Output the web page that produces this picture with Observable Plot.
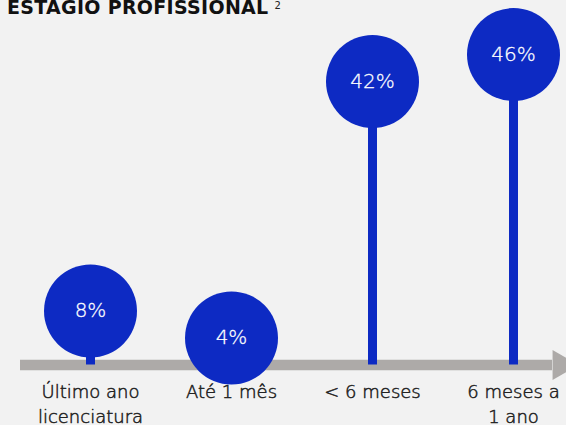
<!DOCTYPE html>
<html><head><meta charset="utf-8">
<script src="https://cdn.jsdelivr.net/npm/d3@7"></script>
<script src="https://cdn.jsdelivr.net/npm/@observablehq/plot@0.6"></script>
<style>
html,body{margin:0;padding:0;background:#f2f2f2;width:566px;height:425px;overflow:hidden;}
#title{position:relative;height:20px;font-family:"DejaVu Sans",sans-serif;color:#111;white-space:nowrap;}
#title .t{position:absolute;left:7px;top:-4px;line-height:19px;font-size:19px;font-weight:bold;letter-spacing:0.3px;}
#title sup{font-size:10px;font-weight:normal;margin-left:6px;vertical-align:5px;color:#222;}
#chart svg{display:block;overflow:visible;}
</style>
</head><body>
<div id="title"><span class="t">ESTAGIO PROFISSIONAL<sup>2</sup></span></div>
<div id="chart"></div>
<script>
const categories = ["Último ano\nlicenciatura", "Até 1 mês", "< 6 meses", "6 meses a\n1 ano"];
const values = [8, 4, 42, 46];
const valueLabels = ["8%", "4%", "42%", "46%"];

const data = categories.map((c, i) => ({cat: c, value: values[i], label: valueLabels[i]}));
const blue = "#0d2ac3";
const gray = "#adaaa8";
const font = "DejaVu Sans";

const chart = Plot.plot({
  width: 566,
  height: 405,
  marginLeft: 90,
  marginRight: 53,
  marginTop: 34,
  marginBottom: 60.5,
  style: {background: "transparent", fontFamily: font, overflow: "visible"},
  x: {type: "point", domain: categories, padding: 0, axis: null},
  y: {domain: [0, 46], axis: null},
  marks: [
    Plot.ruleY([0], {stroke: gray, strokeWidth: 10.5, insetLeft: -70, insetRight: -39}),
    Plot.dot([categories[categories.length - 1]], {x: d => d, y: () => 0, symbol: "triangle", rotate: 90, r: 11.1, dx: 47.7, fill: gray, stroke: null}),
    Plot.ruleX(data, {x: "cat", y1: () => 0, y2: "value", stroke: blue, strokeWidth: 9}),
    Plot.dot(data, {x: "cat", y: "value", r: 46.5, fill: blue, stroke: null}),
    Plot.text(data, {x: "cat", y: "value", text: "label", fill: "white", stroke: "white", strokeWidth: 0.3, fontSize: 20, fontWeight: 300, fontFamily: font}),
    Plot.text(data, {x: "cat", y: () => 0, text: "cat", lineAnchor: "top", dy: 16, lineHeight: 1.36, fontSize: 18, fontWeight: 300, fill: "#222", stroke: "#222", strokeWidth: 0.5, fontFamily: font, style: "letter-spacing:1px"})
  ]
});
document.getElementById("chart").appendChild(chart);
</script>
</body></html>
